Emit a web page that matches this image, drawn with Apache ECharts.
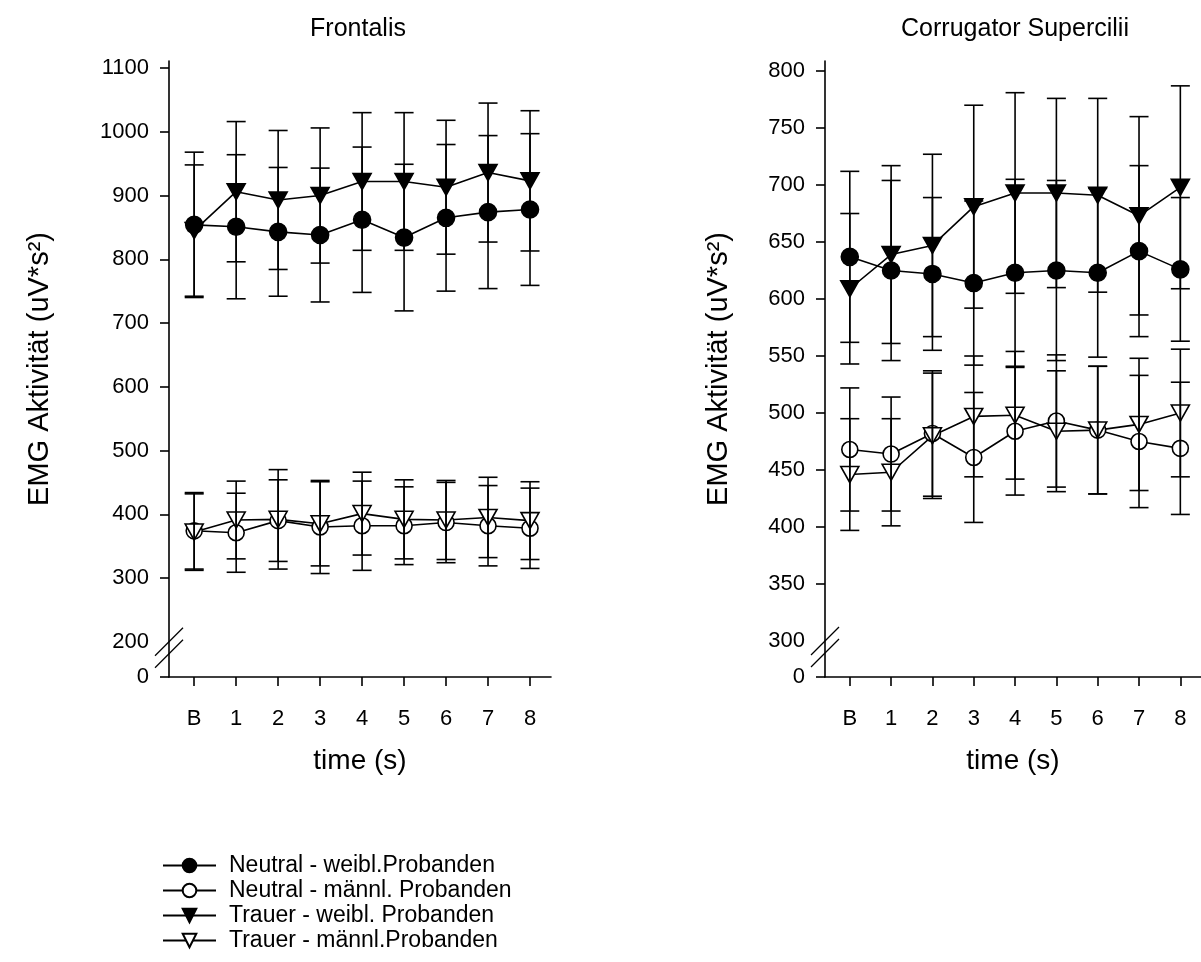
<!DOCTYPE html>
<html><head><meta charset="utf-8">
<script src="https://cdn.jsdelivr.net/npm/echarts@6/dist/echarts.min.js"></script>
<style>html,body{margin:0;padding:0;background:#fff}#c{width:1201px;height:962px}</style>
</head><body><div id="c"></div>
<script>
// ---------- data ----------
const timeLabels = ['B','1','2','3','4','5','6','7','8'];
const timeValues = [0,1,2,3,4,5,6,7,8];
const seriesNames = ['Neutral - weibl.Probanden','Neutral - männl. Probanden','Trauer - weibl. Probanden','Trauer - männl.Probanden'];

// Frontalis (means and error bar half-lengths)
const frontNeutralW    = [854, 851, 843, 838, 862, 834, 865, 874, 878];
const frontNeutralWErr = [114, 113, 101, 105, 114, 115, 115, 120, 119];
const frontNeutralM    = [374, 371, 390, 380, 382, 382, 387, 382, 378];
const frontNeutralMErr = [60, 62, 64, 73, 70, 61, 63, 63, 63];
const frontTrauerW     = [845, 906, 893, 900, 922, 922, 913, 936, 923];
const frontTrauerWErr  = [103, 110, 109, 106, 108, 108, 105, 109, 110];
const frontTrauerM     = [372, 391, 392, 385, 401, 392, 391, 395, 390];
const frontTrauerMErr  = [60, 61, 78, 66, 65, 62, 62, 63, 61];

// Corrugator Supercilii
const corrNeutralW    = [637, 625, 622, 614, 623, 625, 623, 642, 626];
const corrNeutralWErr = [75, 79, 67, 72, 82, 79, 74, 75, 63];
const corrNeutralM    = [468, 464, 482, 461, 484, 493, 485, 475, 469];
const corrNeutralMErr = [54, 50, 55, 57, 56, 58, 56, 58, 58];
const corrTrauerW     = [609, 639, 647, 681, 693, 693, 691, 673, 698];
const corrTrauerWErr  = [66, 78, 80, 89, 88, 83, 85, 87, 89];
const corrTrauerM     = [446, 448, 480, 497, 498, 484, 485, 490, 500];
const corrTrauerMErr  = [49, 47, 55, 53, 56, 53, 56, 58, 56];

// axis ticks / labels (lowest axis value is shown as "0" below a break)
const frontYTickValues  = [300, 400, 500, 600, 700, 800, 900, 1000, 1100];
const frontYLabelValues = [200, 300, 400, 500, 600, 700, 800, 900, 1000, 1100];
const corrYTickValues   = [350, 400, 450, 500, 550, 600, 650, 700, 750, 800];
const corrYLabelValues  = [300, 350, 400, 450, 500, 550, 600, 650, 700, 750, 800];
const frontBreakValue = 200, corrBreakValue = 300;
const frontYMin = 144.7, frontYMax = 1111;
const corrYMin = 268.4, corrYMax = 808.8;

// ---------- chart ----------
const FONT = "'Liberation Sans', Arial, Helvetica, sans-serif";
const chart = echarts.init(document.getElementById('c'), null, {renderer: 'canvas'});

function pts(vals) { return timeValues.map((x, i) => [x, vals[i]]); }
function errs(vals, e) { return timeValues.map((x, i) => [x, vals[i] - e[i], vals[i] + e[i]]); }

const LW = 1.6;
function errRender(params, api) {
  const x = api.value(0), lo = api.value(1), hi = api.value(2);
  const a = api.coord([x, lo]), b = api.coord([x, hi]);
  const hw = 9.5;
  const st = {stroke: '#000', lineWidth: LW, fill: null};
  return {type: 'group', children: [
    {type: 'line', shape: {x1: a[0], y1: a[1], x2: b[0], y2: b[1]}, style: st},
    {type: 'line', shape: {x1: a[0] - hw, y1: a[1], x2: a[0] + hw, y2: a[1]}, style: st},
    {type: 'line', shape: {x1: b[0] - hw, y1: b[1], x2: b[0] + hw, y2: b[1]}, style: st}
  ]};
}

const styles = [
  {symbol: 'circle', symbolSize: 17, symbolRotate: 0, fill: '#000'},
  {symbol: 'circle', symbolSize: 16, symbolRotate: 0, fill: '#fff'},
  {symbol: 'triangle', symbolSize: [18, 16], symbolRotate: 180, fill: '#000'},
  {symbol: 'triangle', symbolSize: [18, 16], symbolRotate: 180, fill: '#fff'}
];

function lineSeries(idx, vals, g) {
  const s = styles[idx];
  return {
    type: 'line', name: seriesNames[idx], xAxisIndex: g, yAxisIndex: g,
    data: pts(vals), symbol: s.symbol, symbolSize: s.symbolSize, symbolRotate: s.symbolRotate,
    showAllSymbol: true, z: 2, animation: false,
    lineStyle: {color: '#000', width: LW},
    itemStyle: {color: s.fill, borderColor: '#000', borderWidth: LW},
    emphasis: {disabled: true}
  };
}
function errSeries(vals, e, g) {
  return {
    type: 'custom', xAxisIndex: g, yAxisIndex: g, data: errs(vals, e),
    renderItem: errRender, encode: {x: 0, y: [1, 2]}, z: 3, silent: true, animation: false, clip: false
  };
}

const frontSets = [[frontNeutralW, frontNeutralWErr], [frontNeutralM, frontNeutralMErr], [frontTrauerW, frontTrauerWErr], [frontTrauerM, frontTrauerMErr]];
const corrSets  = [[corrNeutralW, corrNeutralWErr], [corrNeutralM, corrNeutralMErr], [corrTrauerW, corrTrauerWErr], [corrTrauerM, corrTrauerMErr]];

const series = [];
frontSets.forEach(d => series.push(errSeries(d[0], d[1], 0)));
corrSets.forEach(d => series.push(errSeries(d[0], d[1], 1)));
frontSets.forEach((d, i) => series.push(lineSeries(i, d[0], 0)));
corrSets.forEach((d, i) => series.push(lineSeries(i, d[0], 1)));

function xAxis(g) {
  return {
    type: 'value', gridIndex: g, min: -0.6, max: 8.5,
    name: 'time (s)', nameLocation: 'middle', nameGap: 70,
    nameTextStyle: {fontFamily: FONT, fontSize: 28, color: '#000'},
    axisLine: {show: true, onZero: false, lineStyle: {color: '#000', width: LW}},
    axisTick: {show: true, inside: false, length: 9, lineStyle: {color: '#000', width: LW}, customValues: timeValues},
    axisLabel: {show: true, margin: 31, fontFamily: FONT, fontSize: 22, color: '#000', customValues: timeValues,
      formatter: v => timeLabels[timeValues.indexOf(Math.round(v))]},
    splitLine: {show: false}
  };
}
function yAxis(g, min, max, tickVals, labelVals, nameGap) {
  return {
    type: 'value', gridIndex: g, min: min, max: max,
    name: 'EMG Aktivität (uV*s²)', nameLocation: 'middle', nameGap: nameGap,
    nameTextStyle: {fontFamily: FONT, fontSize: 29, color: '#000'},
    axisLine: {show: true, onZero: false, lineStyle: {color: '#000', width: LW}},
    axisTick: {show: true, inside: false, length: 9, lineStyle: {color: '#000', width: LW}, customValues: [min].concat(tickVals)},
    axisLabel: {show: true, margin: 20, fontFamily: FONT, fontSize: 22, color: '#000', customValues: [min].concat(labelVals),
      formatter: v => (v < labelVals[0] - 1 ? '0' : String(Math.round(v)))},
    splitLine: {show: false}
  };
}

const option = {
  backgroundColor: '#fff',
  animation: false,
  title: [
    {text: 'Frontalis', left: 358, top: 17, padding: 0, textAlign: 'center', textStyle: {fontFamily: FONT, fontSize: 25, fontWeight: 'normal', color: '#000'}},
    {text: 'Corrugator Supercilii', left: 1015, top: 17, padding: 0, textAlign: 'center', textStyle: {fontFamily: FONT, fontSize: 25, fontWeight: 'normal', color: '#000'}}
  ],
  grid: [
    {left: 169, top: 61, width: 382, height: 616},
    {left: 825, top: 61, width: 382, height: 616}
  ],
  xAxis: [xAxis(0), xAxis(1)],
  yAxis: [
    yAxis(0, frontYMin, frontYMax, frontYTickValues, frontYLabelValues, 115),
    yAxis(1, corrYMin, corrYMax, corrYTickValues, corrYLabelValues, 92)
  ],
  legend: {
    data: seriesNames, orient: 'vertical', left: 162, top: 853, padding: 0,
    itemWidth: 53, itemHeight: 17, itemGap: 0, selectedMode: false,
    textStyle: {fontFamily: FONT, fontSize: 23, color: '#000', lineHeight: 25, padding: [0, 0, 0, 8]}
  },
  series: series
};
chart.setOption(option);

// axis break marks
function breakMarks(g, breakVal, xmin) {
  const p = chart.convertToPixel({gridIndex: g}, [xmin, breakVal]);
  const h = 14;
  const st = {stroke: '#000', lineWidth: 1.3};
  return [0, 12].map(off => ({
    type: 'line', silent: true, z: 10,
    shape: {x1: p[0] - h, y1: p[1] + off + h, x2: p[0] + h, y2: p[1] + off - h}, style: st
  }));
}
chart.setOption({graphic: breakMarks(0, frontBreakValue, -0.6).concat(breakMarks(1, corrBreakValue, -0.6))});
</script></body></html>
